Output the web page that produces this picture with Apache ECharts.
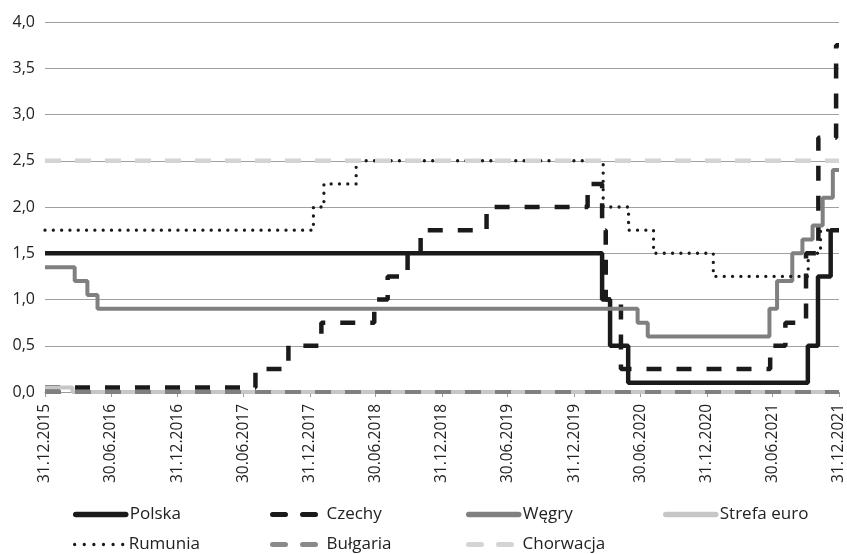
<!DOCTYPE html>
<html>
<head>
<meta charset="utf-8">
<script src="https://cdn.jsdelivr.net/npm/echarts@6/dist/echarts.min.js"></script>
<style>
  html, body { margin: 0; padding: 0; background: #fff; }
  #chart { width: 847px; height: 554px; }
</style>
</head>
<body>
<div id="chart"></div>
<script>
// Policy rates (%), given as change dates (dd.mm.yyyy) and the rate in force from that date.
const polskaDates = ['31.12.2015', '17.03.2020', '08.04.2020', '28.05.2020', '06.10.2021', '03.11.2021', '08.12.2021', '31.12.2021'];
const polskaRates = [1.5, 1.0, 0.5, 0.1, 0.5, 1.25, 1.75, 1.75];

const czechyDates = ['31.12.2015', '03.08.2017', '02.11.2017', '01.02.2018', '27.06.2018', '03.08.2018', '27.09.2018', '02.11.2018',
  '03.05.2019', '06.02.2020', '17.03.2020', '27.03.2020', '08.05.2020', '24.06.2021', '05.08.2021', '01.10.2021', '04.11.2021',
  '23.12.2021', '31.12.2021'];
const czechyRates = [0.05, 0.25, 0.5, 0.75, 1.0, 1.25, 1.5, 1.75, 2.0, 2.25, 1.75, 1.0, 0.25, 0.5, 0.75, 1.5, 2.75, 3.75, 3.75];

const wegryDates = ['31.12.2015', '22.03.2016', '26.04.2016', '24.05.2016', '23.06.2020', '21.07.2020', '22.06.2021', '13.07.2021',
  '24.08.2021', '21.09.2021', '19.10.2021', '16.11.2021', '14.12.2021', '31.12.2021'];
const wegryRates = [1.35, 1.2, 1.05, 0.9, 0.75, 0.6, 0.9, 1.2, 1.5, 1.65, 1.8, 2.1, 2.4, 2.4];

const strefaDates = ['31.12.2015', '16.03.2016', '31.12.2021'];
const strefaRates = [0.05, 0.0, 0.0];

const rumuniaDates = ['31.12.2015', '10.01.2018', '08.02.2018', '08.05.2018', '20.03.2020', '29.05.2020', '06.08.2020', '18.01.2021',
  '07.10.2021', '10.11.2021', '31.12.2021'];
const rumuniaRates = [1.75, 2.0, 2.25, 2.5, 2.0, 1.75, 1.5, 1.25, 1.5, 1.75, 1.75];

const bulgariaDates = ['31.12.2015', '31.12.2021'];
const bulgariaRates = [0.0, 0.0];

const chorwacjaDates = ['31.12.2015', '31.12.2021'];
const chorwacjaRates = [2.5, 2.5];

// Axis labels, every half-year
const xTickLabels = ['31.12.2015', '30.06.2016', '31.12.2016', '30.06.2017', '31.12.2017', '30.06.2018', '31.12.2018',
  '30.06.2019', '31.12.2019', '30.06.2020', '31.12.2020', '30.06.2021', '31.12.2021'];

// Dates are placed on a linear axis measured in days (UTC, so every day has equal length)
function toDay(s) {
  const p = s.split('.');
  return Date.UTC(+p[2], +p[1] - 1, +p[0]) / 86400000;
}
function pad(n) { return (n < 10 ? '0' : '') + n; }
function fmtDay(v) {
  const d = new Date(Math.round(v) * 86400000);
  return pad(d.getUTCDate()) + '.' + pad(d.getUTCMonth() + 1) + '.' + d.getUTCFullYear();
}
function pairs(dates, rates) {
  return dates.map((d, i) => [toDay(d), rates[i]]);
}

const textFont = 'Open Sans';

// Line styles of the series; legend keys reuse them with slightly bolder strokes
const styles = {
  'Polska':      { color: '#1a1a1a', width: 4.5, cap: 'butt' },
  'Czechy':      { color: '#1a1a1a', width: 4.5, type: [15, 15], cap: 'butt' },
  'Węgry':       { color: '#808080', width: 4, cap: 'butt' },
  'Strefa euro': { color: '#c6c6c6', width: 4, cap: 'butt' },
  'Rumunia':     { color: '#1a1a1a', width: 3.3, type: [0.01, 8.3], cap: 'round' },
  'Bułgaria':    { color: '#808080', width: 4, type: [16, 14], cap: 'butt' },
  'Chorwacja':   { color: '#d4d4d4', width: 4.5, type: [16, 14], cap: 'butt' }
};
const legendStyles = {
  'Polska':      { color: '#1a1a1a', width: 5.5, cap: 'round' },
  'Czechy':      { color: '#1a1a1a', width: 5, type: [13, 17], cap: 'round' },
  'Węgry':       { color: '#808080', width: 5.5, cap: 'round' },
  'Strefa euro': { color: '#c6c6c6', width: 5.5, cap: 'round' },
  'Rumunia':     { color: '#1a1a1a', width: 3.3, type: [0.01, 9.6], cap: 'round' },
  'Bułgaria':    { color: '#8a8a8a', width: 5, type: [13, 17], cap: 'round' },
  'Chorwacja':   { color: '#d4d4d4', width: 5, type: [13, 17], cap: 'round' }
};
// Legend key placement: [left, top]
const legendSlots = {
  'Polska': [73, 506], 'Czechy': [270, 506], 'Węgry': [466, 506], 'Strefa euro': [663, 506],
  'Rumunia': [73, 536], 'Bułgaria': [270, 536], 'Chorwacja': [466, 536]
};

function stepSeries(name, dates, rates) {
  return {
    name: name,
    type: 'line',
    step: 'end',
    symbol: 'none',
    showSymbol: false,
    animation: false,
    data: pairs(dates, rates),
    itemStyle: { color: styles[name].color },
    lineStyle: styles[name]
  };
}

const legends = Object.keys(legendSlots).map(function (name) {
  return {
    data: [name],
    left: legendSlots[name][0],
    top: legendSlots[name][1],
    padding: 0,
    itemWidth: 50,
    itemHeight: 18,
    itemGap: 0,
    selectedMode: false,
    itemStyle: { opacity: 0 },
    lineStyle: legendStyles[name],
    textStyle: { fontFamily: textFont, fontSize: 17, color: '#222', padding: [0, 0, 0, -1] }
  };
});

const tickDays = xTickLabels.map(toDay);

const chart = echarts.init(document.getElementById('chart'), null, { renderer: 'canvas' });

chart.setOption({
  animation: false,
  backgroundColor: '#fff',
  grid: { left: 45, right: 5, top: 22, bottom: 162 },
  legend: legends,
  xAxis: {
    type: 'value',
    min: toDay('31.12.2015'),
    max: toDay('31.12.2021'),
    axisLine: { show: true, lineStyle: { color: '#9a9a9a', width: 1 } },
    axisTick: { show: true, length: 5, lineStyle: { color: '#9a9a9a' }, customValues: tickDays },
    axisLabel: {
      customValues: tickDays,
      rotate: 90,
      margin: 12,
      fontFamily: textFont,
      fontSize: 15.5,
      color: '#222',
      formatter: function (v) { return fmtDay(v); }
    },
    splitLine: { show: false }
  },
  yAxis: {
    type: 'value',
    min: 0,
    max: 4,
    interval: 0.5,
    axisLine: { show: false },
    axisTick: { show: false },
    axisLabel: {
      margin: 10,
      fontFamily: textFont,
      fontSize: 16,
      color: '#222',
      formatter: function (v) { return v.toFixed(1).replace('.', ','); }
    },
    splitLine: { lineStyle: { color: '#a0a0a0', width: 1 } }
  },
  series: [
    stepSeries('Polska', polskaDates, polskaRates),
    stepSeries('Czechy', czechyDates, czechyRates),
    stepSeries('Węgry', wegryDates, wegryRates),
    stepSeries('Strefa euro', strefaDates, strefaRates),
    stepSeries('Rumunia', rumuniaDates, rumuniaRates),
    stepSeries('Bułgaria', bulgariaDates, bulgariaRates),
    stepSeries('Chorwacja', chorwacjaDates, chorwacjaRates)
  ]
});
</script>
</body>
</html>
